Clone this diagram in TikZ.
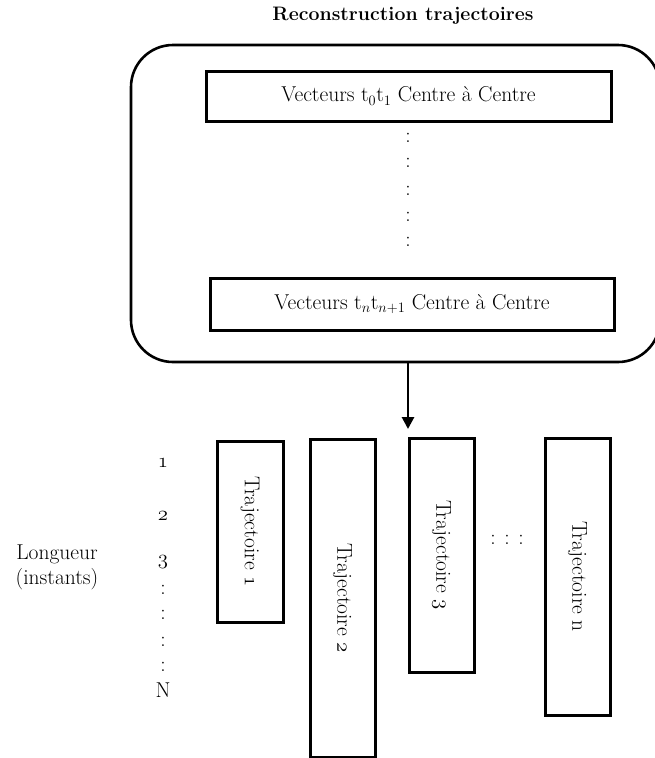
\documentclass[tikz,border=0pt]{standalone}
\usepackage{tikz}
\usetikzlibrary{arrows.meta,calc}

\newcommand{\osf}[1]{{\usefont{OML}{cmm}{m}{it}#1}}

\tikzset{
  txt/.style={font=\fontsize{21.5}{25}\selectfont},
  vecbox/.style={draw,line width=3pt,txt,inner sep=0pt},
  trajbox/.style={draw,line width=3pt,txt,inner sep=0pt},
}

\begin{document}
\begin{tikzpicture}[x=1pt,y=-1pt]
  \useasboundingbox (0,0) rectangle (654,758);
  % bloc reconstruction
  \node[font=\fontsize{19.5}{23}\selectfont\bfseries] (titre) at (403,16) {Reconstruction trajectoires};
  \node[draw,line width=2.6pt,rounded corners=42pt,minimum width=529pt,minimum height=317pt] (reco) at (395.5,203.5) {};
  \node[vecbox,minimum width=405pt,minimum height=50pt] (vec0) at (408.5,96) {Vecteurs t$_0$t$_1$ Centre à Centre};
  \node[vecbox,minimum width=404pt,minimum height=52pt] (vecn) at (412,304) {Vecteurs t$_n$t$_{n+1}$ Centre à Centre};
  \foreach \y [count=\i] in {138,163,191,217,242}
    \node[txt] (pt\i) at (408,\y) {:};
  % fleche vers les trajectoires
  \coordinate (fin) at (408,429);
  \draw[line width=2.8pt,-{Triangle[length=12pt,width=12pt]}] (fin |- reco.south) -- (fin);
  % trajectoires
  \node[trajbox,minimum width=66pt,minimum height=181pt] (traj1) at (250,531.5) {\rotatebox{-90}{Trajectoire \osf{1}}};
  \node[trajbox,minimum width=65pt,minimum height=318pt] (traj2) at (342.5,598) {\rotatebox{-90}{Trajectoire \osf{2}}};
  \node[trajbox,minimum width=65pt,minimum height=234pt] (traj3) at (441.5,555) {\rotatebox{-90}{Trajectoire \osf{3}}};
  \node[trajbox,minimum width=65pt,minimum height=277pt] (trajn) at (577.5,576.5) {\rotatebox{-90}{Trajectoire n}};
  \node[txt] (etc) at (507,540) {: : :};
  % axe des instants
  \node[txt,align=center] (longueur) at (57,567) {Longueur\\(instants)};
  \node[txt] (n1) at (163,463) {\osf{1}};
  \node[txt] (n2) at (163,516) {\osf{2}};
  \node[txt] (n3) at (163,562) {\osf{3}};
  \foreach \y [count=\i] in {590,615,642,667}
    \node[txt] (d\i) at (163,\y) {:};
  \node[txt] (nN) at (163,690) {N};
\end{tikzpicture}
\end{document}
